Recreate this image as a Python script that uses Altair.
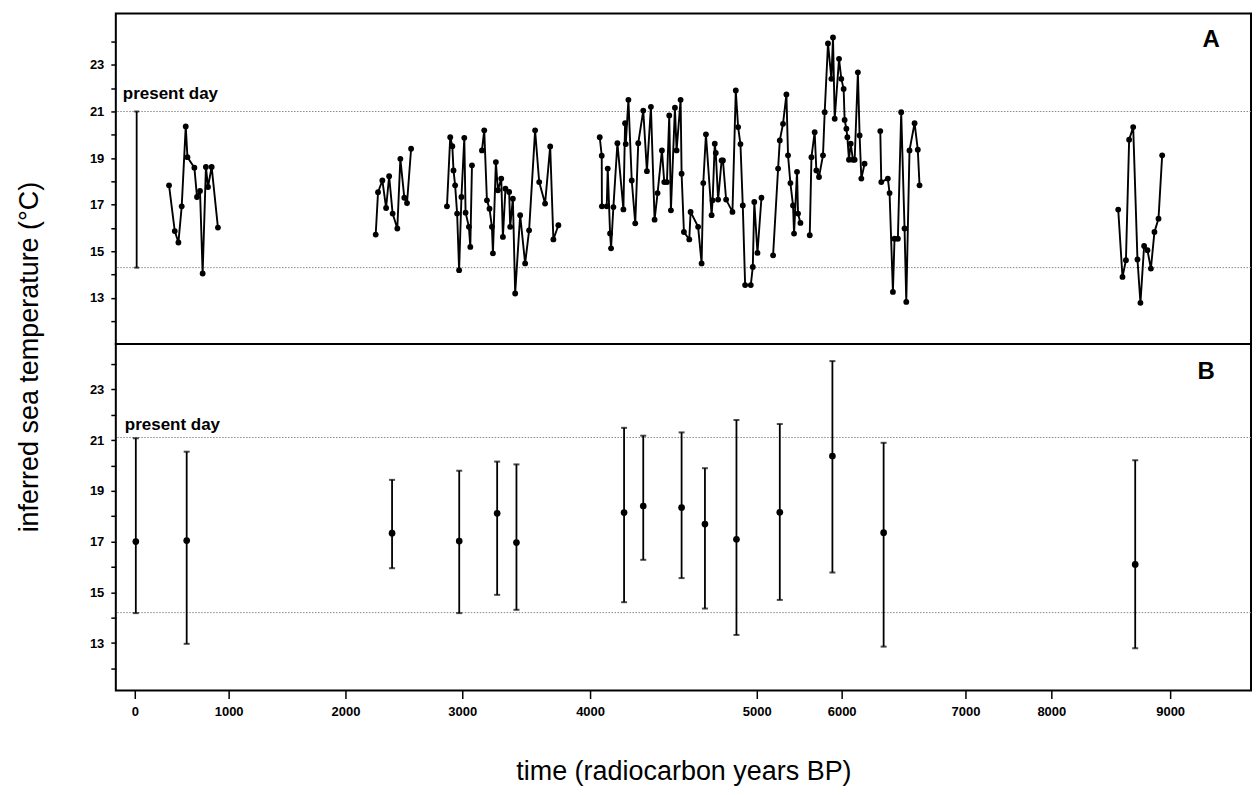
import altair as alt
import pandas as pd

# ---------------- axis tick values / labels ----------------
x_ticks = [0, 1000, 2000, 3000, 4000, 5000, 6000, 7000, 8000, 9000]
y_ticks = [12, 13, 14, 15, 16, 17, 18, 19, 20, 21, 22, 23, 24]
# the printed time axis of the original figure is not evenly spaced:
# piecewise scale (domain breakpoints -> pixel positions along the panel)
x_domain = [-202, 0, 1000, 2000, 3000, 4000, 5000, 6000, 7000, 8000, 9000, 9681]
x_range = [0, 19, 113, 230, 347, 475, 642, 727, 851, 937, 1056, 1137]

# ---------------- panel A : individual estimates (segments) ----------------
g1_year = [365, 426, 465, 500, 543, 561, 635, 663, 695, 723, 758, 780, 819, 886]
g1_temp = [17.83, 15.87, 15.38, 16.93, 20.36, 19.04, 18.59, 17.33, 17.59, 14.05, 18.62, 17.76, 18.62, 16.02]

g2_year = [2259, 2279, 2316, 2348, 2374, 2404, 2444, 2470, 2504, 2527, 2562]
g2_temp = [15.72, 17.54, 18.04, 16.86, 18.22, 16.62, 15.98, 18.97, 17.30, 17.07, 19.40]

g3_year = [2869, 2897, 2915, 2925, 2939, 2956, 2973, 2993, 3016, 3026, 3052, 3063, 3076]
g3_temp = [16.93, 19.90, 19.51, 18.47, 17.83, 16.62, 14.19, 17.33, 19.87, 16.66, 16.05, 15.19, 18.69]

g4_year = [3154, 3172, 3193, 3213, 3232, 3240, 3263, 3279, 3305, 3318, 3338, 3367,
           3375, 3396, 3414, 3453, 3492, 3523, 3570, 3602, 3648, 3688, 3713, 3752]
g4_temp = [19.33, 20.19, 17.19, 16.83, 16.05, 14.91, 18.83, 17.62, 18.12, 15.62, 17.69, 17.55,
           16.05, 17.26, 13.19, 16.55, 14.48, 15.90, 20.19, 17.97, 17.05, 19.50, 15.51, 16.12]

g5_year = [4058, 4070, 4071, 4100, 4106, 4120, 4126, 4140, 4164, 4200, 4210, 4214, 4230,
           4250, 4271, 4289, 4319, 4341, 4365, 4387, 4405, 4431, 4445, 4461, 4475, 4485,
           4509, 4519, 4543, 4549, 4563, 4595, 4603, 4648, 4669, 4679, 4695, 4729, 4735,
           4748, 4754, 4768, 4789, 4797, 4816, 4854, 4874, 4888, 4902, 4916, 4930, 4964,
           4976, 4985, 5008, 5055]
g5_temp = [19.90, 19.10, 16.93, 16.93, 18.55, 15.77, 15.13, 16.90, 19.64, 16.80, 20.50, 19.60, 21.50,
           18.04, 16.20, 19.64, 21.04, 18.44, 21.20, 16.36, 17.50, 19.33, 17.97, 17.97, 20.83, 16.76,
           21.16, 19.33, 21.50, 18.33, 15.83, 15.51, 16.69, 16.05, 14.48, 17.93, 20.02, 16.55, 17.19,
           19.62, 19.22, 17.22, 18.90, 18.90, 17.22, 16.69, 21.90, 20.33, 19.60, 16.97, 13.55, 13.55,
           14.33, 17.12, 14.93, 17.30]

g6_year = [5192, 5251, 5271, 5309, 5349, 5368, 5396, 5427, 5439, 5474, 5486, 5514]
g6_temp = [14.83, 18.55, 19.76, 20.47, 21.73, 19.12, 17.93, 16.97, 15.76, 18.41, 16.62, 16.22]

g7_year = [5624, 5644, 5682, 5702, 5733, 5780, 5800, 5839, 5879, 5898, 5918, 5969, 5996,
           6016, 6024, 6038, 6046, 6059, 6073, 6091, 6105, 6131, 6145, 6159, 6185]
g7_temp = [15.69, 19.04, 20.11, 18.47, 18.19, 19.12, 20.97, 23.92, 22.40, 24.18, 20.69, 23.26, 22.40,
           21.97, 20.64, 20.26, 19.90, 18.93, 19.62, 18.93, 18.93, 22.68, 19.97, 18.12, 18.76]

g8_year = [6312, 6320, 6373, 6387, 6414, 6427, 6454, 6481, 6508, 6522, 6548, 6589, 6615, 6629]
g8_temp = [20.16, 17.97, 18.12, 17.50, 13.26, 15.54, 15.54, 20.97, 15.98, 12.83, 19.33, 20.50, 19.36, 17.83]

g9_year = [8563, 8599, 8628, 8655, 8689, 8725, 8750, 8781, 8809, 8838, 8868, 8902, 8933]
g9_temp = [16.79, 13.90, 14.62, 19.79, 20.33, 14.65, 12.79, 15.23, 15.05, 14.26, 15.83, 16.40, 19.12]

# present-day range shown at year 0 in panel A
pd_year = [20]
pd_low_a = [14.3]
pd_high_a = [21.0]
ref_lines_a = [21.0, 14.3]

# ---------------- panel B : mean and range per interval ----------------
b_year = [11, 553, 2399, 2974, 3273, 3424, 4204, 4319, 4549, 4689, 4878, 5271, 5891, 6339, 8706]
b_mean = [17.00, 17.04, 17.33, 17.02, 18.11, 16.96, 18.14, 18.40, 18.34, 17.69, 17.09, 18.15, 20.37, 17.35, 16.10]
b_low = [14.18, 12.97, 15.95, 14.18, 14.90, 14.31, 14.61, 16.28, 15.56, 14.36, 13.32, 14.70, 15.78, 12.86, 12.80]
b_high = [21.07, 20.54, 19.43, 19.79, 20.15, 20.04, 21.48, 21.17, 21.30, 19.89, 21.79, 21.63, 24.11, 20.89, 20.20]
ref_lines_b = [21.1, 14.2]

# ---------------- build tables ----------------
groups = [(g1_year, g1_temp), (g2_year, g2_temp), (g3_year, g3_temp), (g4_year, g4_temp),
          (g5_year, g5_temp), (g6_year, g6_temp), (g7_year, g7_temp), (g8_year, g8_temp),
          (g9_year, g9_temp)]
rows = []
for i, (ys, ts) in enumerate(groups):
    for y, t in zip(ys, ts):
        rows.append({"year": y, "temp": t, "seg": i})
df_a = pd.DataFrame(rows)
df_pd = pd.DataFrame({"year": pd_year, "lo": pd_low_a, "hi": pd_high_a})
df_ref_a = pd.DataFrame({"temp": ref_lines_a})
df_b = pd.DataFrame({"year": b_year, "temp": b_mean, "lo": b_low, "hi": b_high})
df_ref_b = pd.DataFrame({"temp": ref_lines_b})

FONT = "Liberation Sans"
W = 1137
H_A = 331
H_B = 347

xscale = alt.Scale(domain=x_domain, range=x_range, nice=False, zero=False)
yscale_a = alt.Scale(domain=[11.02, 25.2], nice=False, zero=False)
yscale_b = alt.Scale(domain=[11.13, 24.78], nice=False, zero=False)

yaxis = alt.Axis(values=y_ticks, labelExpr="datum.value % 2 == 1 ? datum.label : ''",
                 tickSize=5, tickWidth=1.5, labelPadding=7, title=None)
xaxis_b = alt.Axis(values=x_ticks, format="d", tickSize=8, tickWidth=1.5, labelPadding=7,
                   title="time (radiocarbon years BP)", titlePadding=40)

XA = alt.X("year:Q", scale=xscale, axis=None)
XB = alt.X("year:Q", scale=xscale, axis=xaxis_b)

ref_style = dict(color="#8a8a8a", strokeDash=[1.5, 1.5], strokeWidth=1)

# ---- panel A ----
refs_a = alt.Chart(df_ref_a).mark_rule(**ref_style).encode(
    y=alt.Y("temp:Q", scale=yscale_a, axis=yaxis))
lines_a = alt.Chart(df_a).mark_line(color="black", strokeWidth=1.9).encode(
    x=XA, y=alt.Y("temp:Q", scale=yscale_a, axis=yaxis), detail="seg:N", order="year:Q")
pts_a = alt.Chart(df_a).mark_circle(color="black", size=34, opacity=1).encode(
    x=XA, y=alt.Y("temp:Q", scale=yscale_a, axis=yaxis))
pdbar = alt.Chart(df_pd).mark_rule(color="black", strokeWidth=1.8).encode(
    x=XA, y=alt.Y("lo:Q", scale=yscale_a, axis=yaxis), y2="hi:Q")
pdcap_lo = alt.Chart(df_pd).mark_tick(color="black", orient="horizontal", size=5, thickness=2).encode(
    x=XA, y=alt.Y("lo:Q", scale=yscale_a, axis=yaxis))
pdcap_hi = alt.Chart(df_pd).mark_tick(color="black", orient="horizontal", size=5, thickness=2).encode(
    x=XA, y=alt.Y("hi:Q", scale=yscale_a, axis=yaxis))

label_df = pd.DataFrame({"t": ["present day"]})
pday_a = alt.Chart(label_df).mark_text(font=FONT, fontWeight="bold", fontSize=17, align="left",
                                       baseline="alphabetic", color="black").encode(
    text="t:N", x=alt.value(7), y=alt.value(86))
letter_a = alt.Chart(pd.DataFrame({"t": ["A"]})).mark_text(
    font=FONT, fontWeight="bold", fontSize=24, align="center", baseline="middle", color="black").encode(
    text="t:N", x=alt.value(1097), y=alt.value(26))
ytitle = alt.Chart(pd.DataFrame({"t": ["inferred sea temperature (°C)"]})).mark_text(
    font=FONT, fontSize=27, angle=270, align="center", baseline="middle", color="black").encode(
    text="t:N", x=alt.value(-86), y=alt.value(344))

panel_a = alt.layer(refs_a, pdbar, pdcap_lo, pdcap_hi, lines_a, pts_a, pday_a, letter_a, ytitle).properties(
    width=W, height=H_A)

# ---- panel B ----
refs_b = alt.Chart(df_ref_b).mark_rule(**ref_style).encode(
    y=alt.Y("temp:Q", scale=yscale_b, axis=yaxis))
bars_b = alt.Chart(df_b).mark_rule(color="black", strokeWidth=1.8).encode(
    x=XB, y=alt.Y("lo:Q", scale=yscale_b, axis=yaxis), y2="hi:Q")
cap_lo = alt.Chart(df_b).mark_tick(color="black", orient="horizontal", size=6, thickness=2).encode(
    x=XB, y=alt.Y("lo:Q", scale=yscale_b, axis=yaxis))
cap_hi = alt.Chart(df_b).mark_tick(color="black", orient="horizontal", size=6, thickness=2).encode(
    x=XB, y=alt.Y("hi:Q", scale=yscale_b, axis=yaxis))
pts_b = alt.Chart(df_b).mark_circle(color="black", size=45, opacity=1).encode(
    x=XB, y=alt.Y("temp:Q", scale=yscale_b, axis=yaxis))
pday_b = alt.Chart(label_df).mark_text(font=FONT, fontWeight="bold", fontSize=17, align="left",
                                       baseline="alphabetic", color="black").encode(
    text="t:N", x=alt.value(9), y=alt.value(86))
letter_b = alt.Chart(pd.DataFrame({"t": ["B"]})).mark_text(
    font=FONT, fontWeight="bold", fontSize=24, align="center", baseline="middle", color="black").encode(
    text="t:N", x=alt.value(1092), y=alt.value(28))

panel_b = alt.layer(refs_b, bars_b, cap_lo, cap_hi, pts_b, pday_b, letter_b).properties(
    width=W, height=H_B)

chart = alt.vconcat(panel_a, panel_b, spacing=0, bounds="flush").properties(
    padding={"left": 15, "top": 12, "right": 3, "bottom": 5},
    background="white",
).configure_view(
    stroke="black", strokeWidth=2
).configure_axis(
    labelFont=FONT, labelFontWeight="bold", labelFontSize=13, labelColor="black",
    tickColor="black", domain=False, grid=False,
    titleFont=FONT, titleFontSize=27, titleFontWeight="normal", titleColor="black"
)

chart.save("out.html", embed_options={"renderer": "svg", "actions": False})
